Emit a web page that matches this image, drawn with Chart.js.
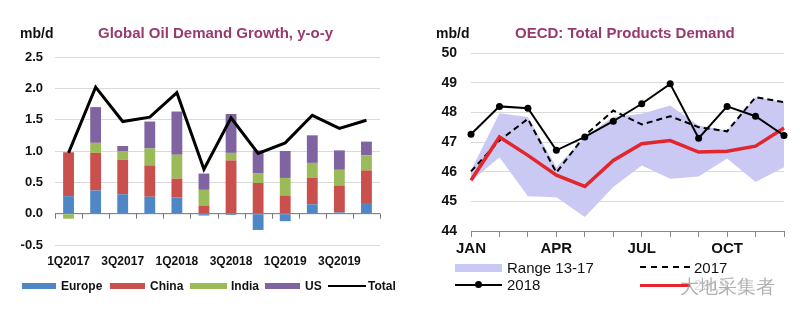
<!DOCTYPE html>
<html>
<head>
<meta charset="utf-8">
<script src="https://cdn.jsdelivr.net/npm/chart.js"></script>
<style>
  body { margin: 0; background: #fff; font-family: "Liberation Sans", Arial, sans-serif; }
  #wrap { position: relative; width: 800px; height: 321px; overflow: hidden; }
  .abs { position: absolute; white-space: nowrap; }
  .unit { font-weight: bold; font-size: 14px; color: #111; }
  .title { font-weight: bold; font-size: 15px; color: #983a6e; }
  .lg { font-weight: bold; font-size: 12px; color: #111; }
  .lg2 { font-size: 15px; color: #111; }
</style>
</head>
<body>
<div id="wrap">
  <canvas id="growthChart" class="abs" style="left:0;top:0" width="400" height="321"></canvas>
  <canvas id="oecdChart" class="abs" style="left:400px;top:0" width="400" height="321"></canvas>

  <!-- left titles -->
  <div class="abs unit" style="left:20px;top:25px">mb/d</div>
  <div class="abs title" style="left:98px;top:24px">Global Oil Demand Growth, y-o-y</div>

  <!-- right titles -->
  <div class="abs unit" style="left:436px;top:25px">mb/d</div>
  <div class="abs title" style="left:515px;top:24px">OECD: Total Products Demand</div>

  <!-- left legend -->
  <div class="abs" style="left:22px;top:283px;width:34px;height:6px;background:#4f86c6"></div>
  <div class="abs lg" style="left:61px;top:279px">Europe</div>
  <div class="abs" style="left:110px;top:283px;width:35px;height:6px;background:#c9504c"></div>
  <div class="abs lg" style="left:150px;top:279px">China</div>
  <div class="abs" style="left:190px;top:283px;width:37px;height:6px;background:#9bbb59"></div>
  <div class="abs lg" style="left:231px;top:279px">India</div>
  <div class="abs" style="left:265px;top:283px;width:35px;height:6px;background:#8064a2"></div>
  <div class="abs lg" style="left:305px;top:279px">US</div>
  <div class="abs" style="left:328px;top:285px;width:38px;height:2px;background:#000"></div>
  <div class="abs lg" style="left:368px;top:279px">Total</div>

  <!-- right legend -->
  <div class="abs" style="left:455px;top:264px;width:47px;height:8px;background:#c9c9f3"></div>
  <div class="abs lg2" style="left:507px;top:259px">Range 13-17</div>
  <div class="abs" style="left:640px;top:266px;width:50px;height:0;border-top:2px dashed #000"></div>
  <div class="abs lg2" style="left:694px;top:259px">2017</div>
  <div class="abs" style="left:455px;top:284px;width:47px;height:2px;background:#000"></div>
  <div class="abs" style="left:475px;top:281px;width:7px;height:7px;border-radius:50%;background:#000"></div>
  <div class="abs lg2" style="left:507px;top:276px">2018</div>
  <div class="abs" style="left:640px;top:284px;width:50px;height:3px;background:#e3262d"></div>
  <div class="abs lg2" style="left:694px;top:276px;color:#ddd">2019</div>
  <div class="abs" style="left:680px;top:274px;font-size:19px;color:rgba(150,150,150,0.75)">大地采集者</div>
</div>

<script>
    Chart.defaults.font.family = '"Liberation Sans", Arial, sans-serif';
    Chart.defaults.color = '#111';

    // Global oil demand growth, mb/d y-o-y
    const quarters = ['1Q2017', '2Q2017', '3Q2017', '4Q2017', '1Q2018', '2Q2018',
                      '3Q2018', '4Q2018', '1Q2019', '2Q2019', '3Q2019', '4Q2019'];
    const europe = [0.28, 0.37, 0.31, 0.27, 0.26, -0.03, -0.02, -0.26, -0.12, 0.15, 0.02, 0.17];
    const china  = [0.70, 0.60, 0.55, 0.50, 0.30, 0.13, 0.85, 0.49, 0.29, 0.42, 0.43, 0.52];
    const india  = [-0.08, 0.16, 0.14, 0.27, 0.38, 0.25, 0.12, 0.15, 0.28, 0.24, 0.25, 0.24];
    const us     = [0, 0.57, 0.08, 0.43, 0.69, 0.26, 0.62, 0.37, 0.43, 0.44, 0.31, 0.22];
    const total  = [0.97, 2.02, 1.47, 1.54, 1.93, 0.71, 1.53, 0.96, 1.13, 1.57, 1.36, 1.49];

    // OECD total products demand, mb/d
    const months = ['JAN', 'FEB', 'MAR', 'APR', 'MAY', 'JUN', 'JUL', 'AUG', 'SEP', 'OCT', 'NOV', 'DEC'];
    const rangeHigh = [46.04, 47.97, 47.84, 46.15, 47.17, 47.84, 47.95, 48.23, 47.56, 47.39, 48.51, 48.34];
    const rangeLow  = [45.68, 46.49, 45.17, 45.14, 44.47, 45.48, 46.21, 45.76, 45.84, 46.44, 45.65, 46.15];
    const y2017 = [46.01, 47.05, 47.78, 45.97, 47.22, 48.06, 47.59, 47.87, 47.50, 47.36, 48.51, 48.34];
    const y2018 = [47.26, 48.20, 48.14, 46.72, 47.17, 47.70, 48.29, 48.96, 47.13, 48.20, 47.87, 47.22];
    const y2019 = [45.71, 47.17, 46.55, 45.88, 45.50, 46.38, 46.94, 47.05, 46.66, 46.69, 46.86, 47.47];

    // zero axis line with tick marks between quarters
    const zeroAxis = {
        id: 'zeroAxis',
        beforeDatasetsDraw(chart) {
            const ctx = chart.ctx;
            const area = chart.chartArea;
            const y0 = chart.scales.y.getPixelForValue(0);
            const step = (area.right - area.left) / quarters.length;
            ctx.save();
            ctx.strokeStyle = '#777';
            ctx.lineWidth = 1;
            ctx.beginPath();
            ctx.moveTo(area.left, y0);
            ctx.lineTo(area.right, y0);
            for (let i = 0; i <= quarters.length; i++) {
                const x = Math.round(area.left + i * step) + 0.5;
                ctx.moveTo(x, y0);
                ctx.lineTo(x, y0 + 5);
            }
            ctx.stroke();
            ctx.restore();
        }
    };

    const barStyle = { type: 'bar', barPercentage: 0.4, categoryPercentage: 1, order: 1 };

    new Chart(document.getElementById('growthChart'), {
        data: {
            labels: quarters,
            datasets: [
                { ...barStyle, label: 'Europe', data: europe, backgroundColor: '#4f86c6' },
                { ...barStyle, label: 'China', data: china, backgroundColor: '#c9504c' },
                { ...barStyle, label: 'India', data: india, backgroundColor: '#9bbb59' },
                { ...barStyle, label: 'US', data: us, backgroundColor: '#8064a2' },
                {
                    type: 'line', label: 'Total', data: total, stack: 'total', order: 0,
                    borderColor: '#000', borderWidth: 3, pointRadius: 0, tension: 0, fill: false
                }
            ]
        },
        options: {
            responsive: false,
            animation: false,
            layout: { padding: { left: 0, right: 20, top: 57, bottom: 46 } },
            plugins: { legend: { display: false }, tooltip: { enabled: false } },
            scales: {
                x: {
                    stacked: true,
                    afterFit: s => { s.height = 30; },
                    grid: { display: true, drawOnChartArea: false, drawTicks: false },
                    border: { display: false },
                    ticks: {
                        autoSkip: false, maxRotation: 0, padding: 9,
                        font: { size: 12, weight: 'bold' }, color: '#111',
                        callback: (v, i) => (i % 2 === 0 ? quarters[i] : '')
                    }
                },
                y: {
                    stacked: true,
                    min: -0.5, max: 2.5,
                    afterFit: s => { s.width = 55; },
                    grid: { color: '#d9d9d9', drawTicks: false },
                    border: { display: false },
                    ticks: {
                        stepSize: 0.5, padding: 12,
                        font: { size: 13, weight: 'bold' }, color: '#111',
                        callback: v => v.toFixed(1)
                    }
                }
            }
        },
        plugins: [zeroAxis]
    });

    new Chart(document.getElementById('oecdChart'), {
        type: 'line',
        data: {
            labels: months,
            datasets: [
                {
                    label: 'Range 13-17', data: rangeHigh, fill: '+1', order: 3,
                    backgroundColor: '#c9c9f3', borderWidth: 0, pointRadius: 0, tension: 0
                },
                {
                    label: 'range low', data: rangeLow, fill: false, order: 4,
                    borderWidth: 0, pointRadius: 0, tension: 0
                },
                {
                    label: '2017', data: y2017, order: 2, borderColor: '#000', borderWidth: 2,
                    borderDash: [6, 4], pointRadius: 0, tension: 0, fill: false
                },
                {
                    label: '2019', data: y2019, order: 1, borderColor: '#e3262d', borderWidth: 3.5,
                    pointRadius: 0, tension: 0, fill: false
                },
                {
                    label: '2018', data: y2018, order: 0, borderColor: '#000', borderWidth: 2,
                    pointRadius: 3.5, pointBackgroundColor: '#000', pointBorderWidth: 0,
                    tension: 0, fill: false
                }
            ]
        },
        options: {
            responsive: false,
            animation: false,
            layout: { padding: { left: 0, right: 16, top: 53, bottom: 60 } },
            plugins: { legend: { display: false }, tooltip: { enabled: false } },
            scales: {
                x: {
                    offset: false,
                    afterFit: s => { s.height = 30; },
                    grid: { display: true, drawOnChartArea: false, drawTicks: true, tickLength: 6, color: '#888' },
                    border: { display: true, color: '#888' },
                    ticks: {
                        autoSkip: false, maxRotation: 0, padding: 3,
                        font: { size: 15, weight: 'bold' }, color: '#111',
                        callback: (v, i) => (i % 3 === 0 ? months[i] : '')
                    }
                },
                y: {
                    min: 44, max: 50,
                    afterFit: s => { s.width = 71; },
                    grid: { color: '#d9d9d9', drawTicks: false },
                    border: { display: false },
                    ticks: {
                        stepSize: 1, padding: 14,
                        font: { size: 14, weight: 'bold' }, color: '#111'
                    }
                }
            }
        }
    });
</script>
</body>
</html>
